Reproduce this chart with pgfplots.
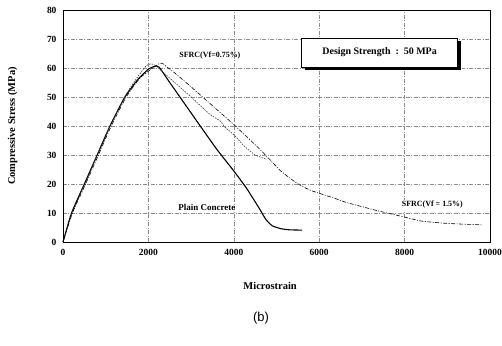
\documentclass[border=0pt]{standalone}
\usepackage{pgfplots}
\pgfplotsset{compat=1.18}
\usepackage{fontspec}
\setmainfont{Liberation Serif}
\newfontfamily\sansf{Liberation Sans}
\begin{document}
\begin{tikzpicture}[x=1bp,y=1bp]
\begin{axis}[
  at={(0,0)}, anchor=south west,
  scale only axis, width=427bp, height=232bp,
  xmin=0, xmax=10000, ymin=0, ymax=80,
  xtick={0,2000,4000,6000,8000,10000},
  ytick={0,10,...,80},
  scaled ticks=false,
  major tick length=0pt,
  /pgf/number format/assume math mode=true,
  /pgf/number format/set thousands separator={},
  ticklabel style={font=\fontsize{9.5}{10}\selectfont\bfseries},
  xticklabel style={yshift=-4bp},
  yticklabel style={xshift=-3bp},
  grid=major,
  major grid style={black!45, dash pattern=on 4pt off 1.5pt on 1pt off 1.5pt, line width=0.5pt},
  axis line style={black, line width=0.9pt},
  xlabel={Microstrain},
  ylabel={Compressive Stress (MPa)},
  label style={font=\fontsize{10.5}{12}\selectfont\bfseries},
  xlabel style={at={(axis description cs:0.485,-0.19)}, anchor=center},
  ylabel style={at={(axis description cs:-0.118,0.5)}, anchor=center},
  clip=false,
]
% Plain concrete
\addplot[black, line width=1.1pt, smooth, tension=0.3] coordinates {
(0,0) (200,10) (500,20) (800,30) (1100,40) (1450,50) (1750,56) (2000,59.6) (2150,60.6) (2250,60.3)
(2500,55) (3000,44.5) (3200,40.3) (3600,32) (4000,24.5) (4300,18.5) (4600,11.5) (4750,7.8) (4900,5.6) (5100,4.6) (5300,4.2) (5600,4.1)};
% SFRC 0.75%
\addplot[black!80, line width=0.6pt, dash pattern=on 1.5pt off 1.2pt, smooth, tension=0.3] coordinates {
(0,0) (210,10) (510,20) (800,30) (1100,40) (1440,50) (1750,57) (1950,60.8) (2050,61.4) (2150,61)
(2500,56.5) (3000,50) (3400,44.5) (3600,42.5) (3700,41.5) (3800,39.5) (4000,37) (4250,33) (4500,30) (4770,28.5)};
% SFRC 1.5%
\addplot[black, line width=0.6pt, dash pattern=on 4pt off 1.5pt on 1pt off 1.5pt, smooth, tension=0.3] coordinates {
(0,0) (220,10) (530,20) (830,30) (1130,40) (1480,50) (1800,56.5) (2100,60) (2250,61.5) (2330,61.6) (2450,60.2)
(2600,58.5) (3000,53.5) (3500,47) (4000,40.5) (4374,35.3) (4608,32) (4850,28.3) (5100,24.5) (5474,20.3)
(5800,17.8) (6316,15.3) (6643,13.6) (7000,12.2) (7415,10.6) (8000,8.6) (8400,7.2) (9000,6.4) (9824,5.9)};
% labels
\node[font=\fontsize{8}{8}\selectfont\bfseries] at (axis cs:3440,64.2) {SFRC(Vf=0.75\%)};
\node[font=\fontsize{9}{9}\selectfont\bfseries] at (axis cs:3370,12) {Plain Concrete};
\node[font=\fontsize{8}{8}\selectfont\bfseries, fill=white, inner sep=1pt] at (axis cs:8650,12.8) {SFRC(Vf = 1.5\%)};
% design strength box with shadow
\fill[black] (axis cs:5660,59.3) rectangle (axis cs:9310,69.3);
\draw[black, fill=white, line width=0.6pt] (axis cs:5590,60.3) rectangle (axis cs:9240,70.3);
\node[font=\fontsize{10}{10}\selectfont\bfseries] at (axis cs:7415,65.3) {Design Strength\ \ :\ \ 50 MPa};
\end{axis}
\node[font=\sansf\fontsize{13}{14}\selectfont] at (198bp,-76bp) {(b)};
\pgfresetboundingbox
\path (-63bp,-104bp) rectangle (439bp,242bp);
\end{tikzpicture}
\end{document}
